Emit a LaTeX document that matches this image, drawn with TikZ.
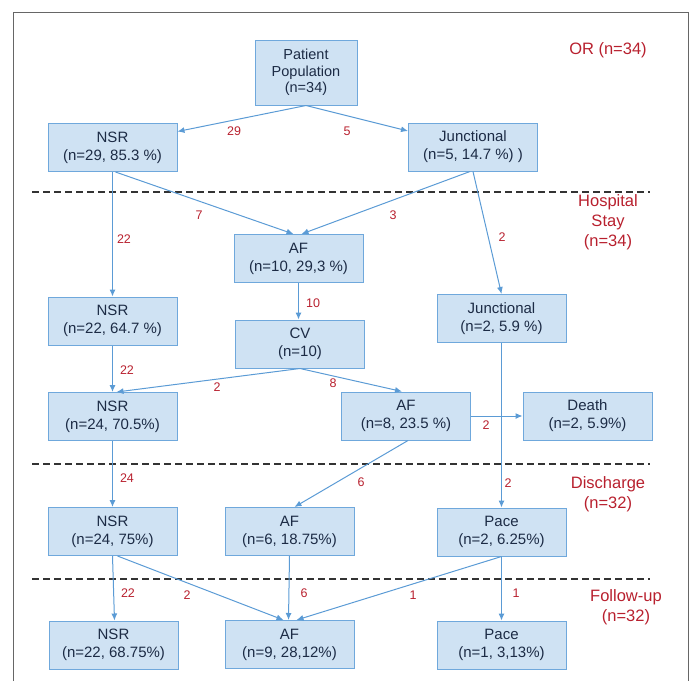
\documentclass[tikz,border=0pt]{standalone}
\usepackage{fontspec}
\setmainfont{Liberation Sans}
\usetikzlibrary{arrows.meta}
\definecolor{boxfill}{HTML}{CFE2F3}
\definecolor{boxline}{HTML}{6FA8DC}
\definecolor{arrowc}{HTML}{5B9BD5}
\definecolor{txtc}{HTML}{1C2B45}
\definecolor{redc}{HTML}{B8202E}
\tikzset{
  stbox/.style={draw=boxline, fill=boxfill, line width=1pt, minimum width=129pt, minimum height=48pt,
    align=center, text=txtc, font=\fontsize{15}{18}\selectfont, inner sep=0pt},
  conn/.style={draw=arrowc, line width=1pt, -{Latex[length=7pt,width=6pt]}},
  lbl/.style={text=redc, font=\fontsize{12.5}{14}\selectfont, inner sep=0pt},
  phase/.style={text=redc, font=\fontsize{16.5}{20}\selectfont, align=center, inner sep=0pt},
  sep/.style={draw=black!80, line width=1.5pt, dash pattern=on 7pt off 4pt},
}
\begin{document}
\begin{tikzpicture}[x=1pt, y=-1pt]
\useasboundingbox (0,0) rectangle (694,681);
% frame
\draw[black!60, line width=1pt] (13,681) -- (13,12) -- (688,12) -- (688,681);
% separators
\coordinate (s1a) at (32,192); \coordinate (s1b) at (650,192);
\coordinate (s2a) at (32,464); \coordinate (s2b) at (650,464);
\coordinate (s3a) at (32,579); \coordinate (s3b) at (650,579);
\draw[sep] (s1a) -- (s1b);
\draw[sep] (s2a) -- (s2b);
\draw[sep] (s3a) -- (s3b);
% phase labels
\node[phase] (orl) at (608,50) {OR (n=34)};
\node[phase] (hsl) at (608,222) {Hospital\\Stay\\(n=34)};
\node[phase] (dcl) at (608,494) {Discharge\\(n=32)};
\node[phase] (ful) at (626,607) {Follow-up\\(n=32)};
% nodes
\node[stbox, minimum width=102pt, minimum height=65pt, font=\fontsize{14.5}{16.7}\selectfont] (pp) at (306,72.5) {Patient\\Population\\(n=34)};
\node[stbox] (nsr1) at (112.5,147.5) {NSR\\(n=29, 85.3 \%)};
\node[stbox] (jun1) at (473,147) {Junctional\\(n=5, 14.7 \%) )};
\node[stbox] (af1) at (298.5,258.5) {AF\\(n=10, 29,3 \%)};
\node[stbox] (nsr2) at (112.5,321) {NSR\\(n=22, 64.7 \%)};
\node[stbox] (cv) at (300,344) {CV\\(n=10)};
\node[stbox] (jun2) at (501.5,318.5) {Junctional\\(n=2, 5.9 \%)};
\node[stbox] (nsr3) at (112.5,416.5) {NSR\\(n=24, 70.5\%)};
\node[stbox] (af2) at (406,416) {AF\\(n=8, 23.5 \%)};
\node[stbox] (death) at (587.5,416) {Death\\(n=2, 5.9\%)};
\node[stbox] (nsr4) at (112.5,531.5) {NSR\\(n=24, 75\%)};
\node[stbox] (af3) at (289.5,531.5) {AF\\(n=6, 18.75\%)};
\node[stbox] (pace1) at (501.5,532) {Pace\\(n=2, 6.25\%)};
\node[stbox] (nsr5) at (113.5,645) {NSR\\(n=22, 68.75\%)};
\node[stbox] (af4) at (289.5,644.5) {AF\\(n=9, 28,12\%)};
\node[stbox] (pace2) at (501.5,645) {Pace\\(n=1, 3,13\%)};
% connectors
\draw[conn] (pp.south) -- ([yshift=16pt]nsr1.east);
\draw[conn] (pp.south) -- ([yshift=16pt]jun1.west);
\draw[conn] (nsr1.south) -- (nsr2.north);
\draw[conn] ([xshift=3pt]nsr1.south) -- ([xshift=-5pt]af1.north);
\draw[conn] ([xshift=-3pt]jun1.south) -- ([xshift=3pt]af1.north);
\draw[conn] (jun1.south) -- (jun2.north);
\draw[conn] (af1.south) -- (af1.south |- cv.north);
\draw[conn] (nsr2.south) -- (nsr3.north);
\draw[conn] (cv.south) -- ([xshift=4pt]nsr3.north);
\draw[conn] (cv.south) -- ([xshift=-4pt]af2.north);
\draw[conn] (af2.east) -- (death.west);
\draw[conn] (jun2.south) -- (pace1.north);
\draw[conn] (nsr3.south) -- (nsr4.north);
\draw[conn] ([xshift=2pt]af2.south) -- ([xshift=5pt]af3.north);
\draw[conn] (nsr4.south) -- ([xshift=1pt]nsr5.north);
\draw[conn] ([xshift=5pt]nsr4.south) -- ([xshift=-6pt]af4.north);
\draw[conn] (af3.south) -- ([xshift=-1pt]af4.north);
\draw[conn] (pace1.south) -- ([xshift=7pt]af4.north);
\draw[conn] (pace1.south) -- (pace2.north);
% edge labels
\node[lbl] (l1) at (234,131) {29};
\node[lbl] (l2) at (347,131) {5};
\node[lbl] (l3) at (124,239) {22};
\node[lbl] (l4) at (199,215) {7};
\node[lbl] (l5) at (393,215) {3};
\node[lbl] (l6) at (502,237) {2};
\node[lbl] (l7) at (313,303) {10};
\node[lbl] (l8) at (127,370) {22};
\node[lbl] (l9) at (217,387) {2};
\node[lbl] (l10) at (333,383) {8};
\node[lbl] (l11) at (486,425) {2};
\node[lbl] (l12) at (508,483) {2};
\node[lbl] (l13) at (127,478) {24};
\node[lbl] (l14) at (361,482) {6};
\node[lbl] (l15) at (128,593) {22};
\node[lbl] (l16) at (187,595) {2};
\node[lbl] (l17) at (304,593) {6};
\node[lbl] (l18) at (413,595) {1};
\node[lbl] (l19) at (516,593) {1};
\end{tikzpicture}
\end{document}
